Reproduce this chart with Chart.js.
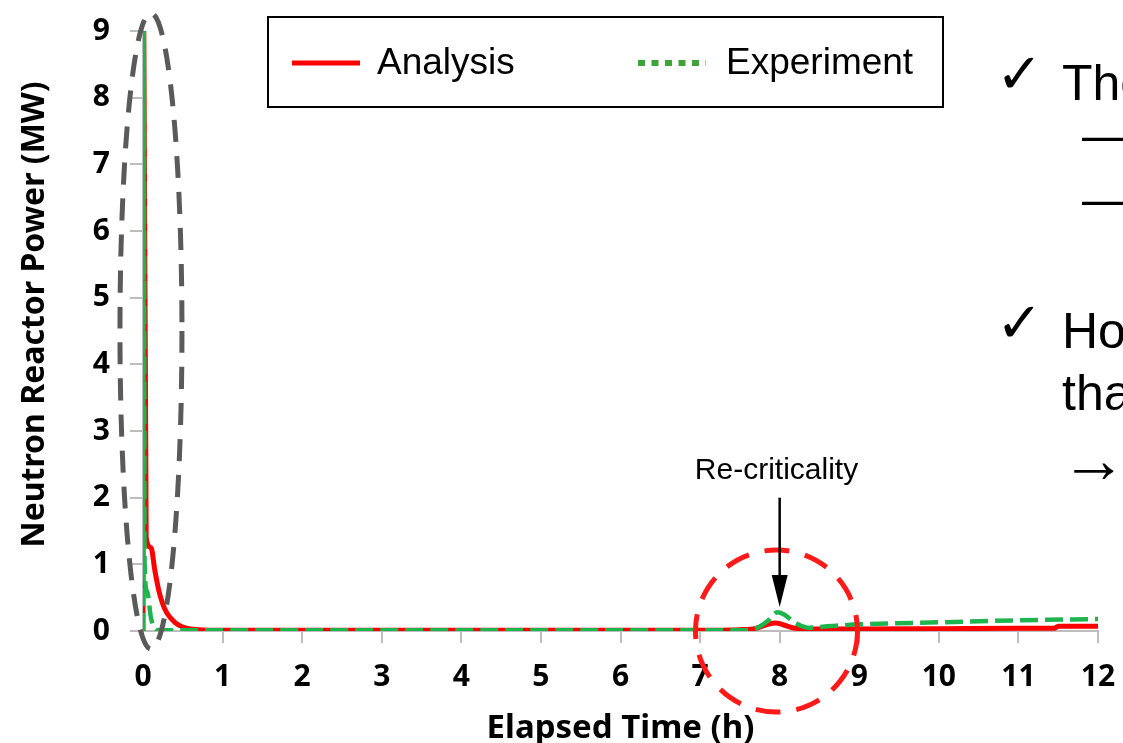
<!DOCTYPE html>
<html>
<head>
<meta charset="utf-8">
<script src="https://cdn.jsdelivr.net/npm/chart.js@4/dist/chart.umd.min.js"></script>
<style>
  html, body { margin: 0; padding: 0; background: #fff; }
  #wrap { width: 1123px; height: 743px; position: relative; }
</style>
</head>
<body>
<div id="wrap"><canvas id="powerChart" width="1123" height="743"></canvas></div>
<script>
// elapsed time (h) and neutron reactor power (MW)
const analysisTime = [0, 0.01, 0.04, 0.1, 0.15, 0.2, 0.25, 0.3, 0.4, 0.5, 0.7, 1.0, 2, 4, 6, 7.0, 7.5, 7.7, 7.85, 7.95, 8.05, 8.2, 8.4, 9, 10, 11, 11.45, 11.5, 12];
const analysisPower = [0, 9.0, 1.4, 1.25, 0.9, 0.6, 0.4, 0.27, 0.13, 0.06, 0.02, 0.01, 0.01, 0.01, 0.01, 0.01, 0.02, 0.04, 0.1, 0.12, 0.09, 0.04, 0.03, 0.03, 0.035, 0.04, 0.04, 0.07, 0.07];

const experimentTime = [0, 0.01, 0.02, 0.05, 0.1, 0.15, 0.2, 1, 3, 5, 7, 7.5, 7.7, 7.85, 7.97, 8.05, 8.2, 8.35, 8.6, 9, 10, 11, 12];
const experimentPower = [0, 9.0, 1.0, 0.6, 0.2, 0.03, 0.01, 0.01, 0.01, 0.01, 0.01, 0.01, 0.04, 0.15, 0.28, 0.25, 0.12, 0.05, 0.07, 0.1, 0.13, 0.16, 0.18];

const xTicks = [0, 1, 2, 3, 4, 5, 6, 7, 8, 9, 10, 11, 12];
const yTicks = [0, 1, 2, 3, 4, 5, 6, 7, 8, 9];

const seriesLabels = ["Analysis", "Experiment"];

function toPoints(xs, ys) {
    return xs.map((x, i) => ({ x: x, y: ys[i] }));
}

// drop the label overflow padding so the plot box sits where the picture has it
function noScalePadding(s) {
    s.paddingTop = 0;
    s.paddingBottom = 0;
    s.paddingLeft = 0;
    s.paddingRight = 0;
}

const annotationPlugin = {
    id: "annotations",
    afterDatasetsDraw(chart) {
        const ctx = chart.ctx;
        const xs = chart.scales.x;
        const ys = chart.scales.y;
        ctx.save();

        // grey dashed ellipse round the initial spike
        ctx.strokeStyle = "#5a5a5a";
        ctx.lineWidth = 5;
        ctx.setLineDash([22, 14]);
        ctx.beginPath();
        ctx.ellipse(xs.getPixelForValue(0.1), ys.getPixelForValue(4.5), 31, 318, 0, 0, Math.PI * 2);
        ctx.stroke();

        // red dashed circle round the re-criticality
        ctx.strokeStyle = "#ff1a1a";
        ctx.setLineDash([25, 16]);
        ctx.beginPath();
        ctx.arc(xs.getPixelForValue(7.96), ys.getPixelForValue(0), 81, 0, Math.PI * 2);
        ctx.stroke();
        ctx.setLineDash([]);

        // arrow + label
        const ax = xs.getPixelForValue(8);
        const aTop = ys.getPixelForValue(2.0);
        const aTip = ys.getPixelForValue(0.36);
        ctx.strokeStyle = "#000";
        ctx.fillStyle = "#000";
        ctx.lineWidth = 2.5;
        ctx.beginPath();
        ctx.moveTo(ax, aTop);
        ctx.lineTo(ax, aTip - 25);
        ctx.stroke();
        ctx.beginPath();
        ctx.moveTo(ax - 8, aTip - 32);
        ctx.lineTo(ax + 8, aTip - 32);
        ctx.lineTo(ax, aTip);
        ctx.closePath();
        ctx.fill();

        ctx.font = "30px 'Liberation Sans', Arial, sans-serif";
        ctx.textAlign = "center";
        ctx.textBaseline = "middle";
        ctx.fillText("Re-criticality", xs.getPixelForValue(7.96), ys.getPixelForValue(2.41));

        // legend box
        ctx.lineWidth = 2;
        ctx.strokeStyle = "#000";
        ctx.strokeRect(268, 17, 675, 90);
        ctx.lineWidth = 5;
        ctx.strokeStyle = "#ff0000";
        ctx.beginPath();
        ctx.moveTo(292, 63);
        ctx.lineTo(360, 63);
        ctx.stroke();
        ctx.strokeStyle = "#3fa33a";
        ctx.lineWidth = 6;
        ctx.setLineDash([7, 6.5]);
        ctx.beginPath();
        ctx.moveTo(638, 63);
        ctx.lineTo(706, 63);
        ctx.stroke();
        ctx.setLineDash([]);
        ctx.font = "37px 'Liberation Sans', Arial, sans-serif";
        ctx.textAlign = "left";
        ctx.fillStyle = "#000";
        ctx.fillText(seriesLabels[0], 377, 64);
        ctx.fillText(seriesLabels[1], 726, 64);

        // slide text on the right, cut by the edge
        ctx.textBaseline = "alphabetic";
        ctx.font = "56px 'DejaVu Sans', sans-serif";
        ctx.fillText("\u2713", 996, 93);
        ctx.fillText("\u2713", 996, 342);
        ctx.font = "50px 'Liberation Sans', Arial, sans-serif";
        ctx.fillText("The", 1062, 100);
        ctx.fillText("\u2014", 1082, 152);
        ctx.fillText("\u2014", 1082, 216);
        ctx.fillText("How", 1062, 348);
        ctx.fillText("that", 1062, 410);
        ctx.font = "66px 'Liberation Sans', Arial, sans-serif";
        ctx.fillText("\u2192", 1061, 482);

        ctx.restore();
    }
};

new Chart(document.getElementById("powerChart").getContext("2d"), {
    type: "line",
    data: {
        datasets: [
            {
                label: seriesLabels[0],
                data: toPoints(analysisTime, analysisPower),
                borderColor: "#ff0000",
                borderWidth: 5,
                pointRadius: 0,
                cubicInterpolationMode: "monotone",
                order: 2,
            },
            {
                label: seriesLabels[1],
                data: toPoints(experimentTime, experimentPower),
                borderColor: "#1fb54e",
                borderWidth: 4.5,
                borderDash: [18, 7],
                pointRadius: 0,
                cubicInterpolationMode: "monotone",
                order: 1,
            },
        ],
    },
    options: {
        responsive: false,
        animation: false,
        layout: { autoPadding: false, padding: { left: 0, right: 25, top: 31, bottom: 0 } },
        plugins: {
            legend: { display: false },
            tooltip: { enabled: false },
        },
        scales: {
            x: {
                type: "linear",
                min: 0,
                max: 12,
                afterFit: (s) => { s.height = 112; noScalePadding(s); },
                afterBuildTicks: (s) => { s.ticks = xTicks.map((v) => ({ value: v })); },
                grid: { drawOnChartArea: false, tickLength: 12, color: "#bdbdbd", lineWidth: 2 },
                border: { color: "#bdbdbd", width: 2 },
                ticks: {
                    padding: 16,
                    color: "#000",
                    font: { family: "'Noto Sans', sans-serif", size: 30, weight: "bold" },
                    maxRotation: 0,
                },
                title: {
                    display: true,
                    text: "Elapsed Time (h)",
                    color: "#000",
                    font: { family: "'Noto Sans', sans-serif", size: 33, weight: "bold", lineHeight: 0.88 },
                    padding: { top: 0, bottom: 0 },
                },
            },
            y: {
                min: 0,
                max: 9,
                afterFit: (s) => { s.width = 143; noScalePadding(s); },
                afterBuildTicks: (s) => { s.ticks = yTicks.map((v) => ({ value: v })); },
                grid: { drawOnChartArea: false, tickLength: 13, color: "#bdbdbd", lineWidth: 2 },
                border: { color: "#bdbdbd", width: 2 },
                ticks: {
                    padding: 20,
                    color: "#000",
                    font: { family: "'Noto Sans', sans-serif", size: 30, weight: "bold" },
                },
                title: {
                    display: true,
                    text: "    Neutron Reactor Power (MW)",
                    color: "#000",
                    font: { family: "'Noto Sans', sans-serif", size: 32, weight: "bold", lineHeight: 0.64 },
                    padding: { top: 25, bottom: 0 },
                },
            },
        },
    },
    plugins: [annotationPlugin],
});
</script>
</body>
</html>
